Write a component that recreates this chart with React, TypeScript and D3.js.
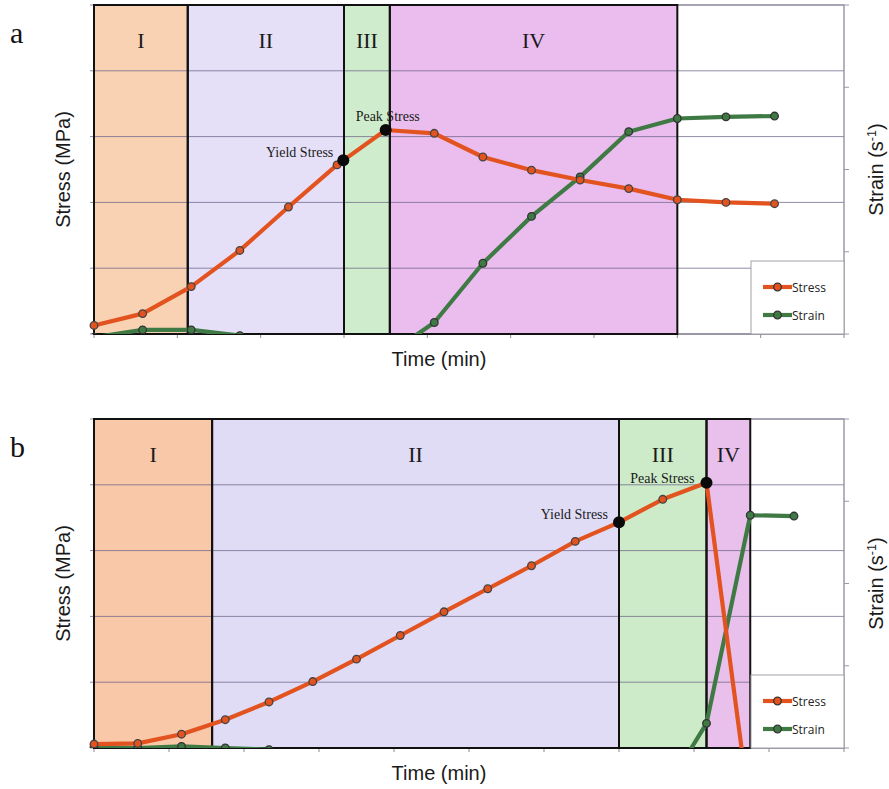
import React from "react";
import * as d3 from "d3";

// ---------- data ----------
const phaseLabels = ["I", "II", "III", "IV"];

// Panel a
const timeA = [0, 7, 14, 21, 28, 35, 42, 49, 56, 63, 70, 77, 84, 91, 98];
const stressA = [0.13, 0.31, 0.72, 1.27, 1.93, 2.57, 3.1, 3.05, 2.69, 2.49, 2.34, 2.21, 2.04, 2.0, 1.98];
const strainA = [-0.04, 0.05, 0.05, -0.02, -0.1, -0.2, -0.27, 0.14, 0.86, 1.43, 1.91, 2.46, 2.62, 2.64, 2.65];
const phaseBoundsA = [0, 13.5, 36, 42.6, 84];
const yieldA = [35.9, 2.64];
const peakA = [42, 3.1];

// Panel b
const timeB = [0, 7, 14, 21, 28, 35, 42, 49, 56, 63, 70, 77, 84, 91, 98, 105, 112];
const stressB = [0.06, 0.07, 0.21, 0.43, 0.7, 1.01, 1.35, 1.71, 2.07, 2.42, 2.77, 3.14, 3.43, 3.78, 4.03, -1.0];
const strainB = [0.01, 0.0, 0.02, 0.0, -0.02, -0.08, -0.14, -0.2, -0.26, -0.32, -0.38, -0.44, -0.5, -0.57, 0.3, 2.83, 2.82];
const phaseBoundsB = [0, 18.9, 84, 98, 105];
const yieldB = [84, 3.43];
const peakB = [98, 4.03];

const legendLabels = ["Stress", "Strain"];

// ---------- style ----------
const W = 889;
const H = 789;
const PL = 94;
const PR = 844;
const PH = 329;
const STRESS = "#e2531f";
const STRAIN = "#3f7a45";

type PanelProps = {
  id: string;
  letter: string;
  y0: number;
  xMax: number;
  xStep: number;
  times: number[];
  stress: number[];
  strain: number[];
  bounds: number[];
  colors: string[];
  yieldPt: number[];
  peakPt: number[];
  yieldOff: number[];
  peakOff: number[];
  peakAnchor: string;
};

function Panel(p: PanelProps) {
  const x = d3.scaleLinear().domain([0, p.xMax]).range([PL, PR]);
  const yL = d3.scaleLinear().domain([0, 5]).range([p.y0 + PH, p.y0]);
  const yR = d3.scaleLinear().domain([0, 4]).range([p.y0 + PH, p.y0]);
  const lineL = d3
    .line<number>()
    .x((_, i) => x(p.times[i]))
    .y((d) => yL(d));
  const lineR = d3
    .line<number>()
    .x((_, i) => x(p.times[i]))
    .y((d) => yR(d));
  const xTicks = d3.range(0, p.xMax + 0.001, p.xStep);
  const yTicks = yL.ticks(5);
  const rTicks = yR.ticks(4);
  const bottom = p.y0 + PH;
  const clipId = "clip-" + p.id;
  const lx = 751;
  const ly = p.y0 + 256;
  const legendY = [p.y0 + 282, p.y0 + 310];

  return (
    <g>
      <defs>
        <clipPath id={clipId}>
          <rect x={PL - 6} y={p.y0} width={PR - PL + 12} height={PH} />
        </clipPath>
      </defs>
      <text x={10} y={p.y0 + 38} fontFamily="Liberation Serif" fontSize={30} fill="#111">
        {p.letter}
      </text>
      {/* plot background border */}
      <rect x={PL} y={p.y0} width={PR - PL} height={PH} fill="#fff" stroke="#9a9aa6" strokeWidth={1} />
      {/* phase fills */}
      {phaseLabels.map((lab, i) => (
        <rect
          key={"pf" + i}
          x={x(p.bounds[i])}
          y={p.y0}
          width={x(p.bounds[i + 1]) - x(p.bounds[i])}
          height={PH}
          fill={p.colors[i]}
        />
      ))}
      {/* gridlines */}
      {yTicks.map((t) => (
        <line key={"g" + t} x1={PL - 4} x2={PR} y1={yL(t)} y2={yL(t)} stroke="#6e6488" strokeOpacity={0.75} strokeWidth={1} />
      ))}
      {/* right axis */}
      <line x1={PR} x2={PR} y1={p.y0} y2={bottom} stroke="#9a9aa6" strokeWidth={1} />
      {rTicks.map((t) => (
        <line key={"r" + t} x1={PR} x2={PR + 5} y1={yR(t)} y2={yR(t)} stroke="#9a9aa6" strokeWidth={1} />
      ))}
      {/* bottom axis ticks */}
      <line x1={PL} x2={PR} y1={bottom} y2={bottom} stroke="#8a8a96" strokeWidth={1.2} />
      {xTicks.map((t) => (
        <line key={"x" + t} x1={x(t)} x2={x(t)} y1={bottom} y2={bottom + 4} stroke="#8a8a96" strokeWidth={1} />
      ))}
      {/* phase borders */}
      {phaseLabels.map((lab, i) => (
        <rect
          key={"pb" + i}
          x={x(p.bounds[i])}
          y={p.y0}
          width={x(p.bounds[i + 1]) - x(p.bounds[i])}
          height={PH}
          fill="none"
          stroke="#111"
          strokeWidth={2}
        />
      ))}
      {/* phase labels */}
      {phaseLabels.map((lab, i) => (
        <text
          key={"pl" + i}
          x={(x(p.bounds[i]) + x(p.bounds[i + 1])) / 2}
          y={p.y0 + 43}
          textAnchor="middle"
          fontFamily="Liberation Serif"
          fontSize={22}
          fill="#1a1a1a"
        >
          {lab}
        </text>
      ))}
      {/* series */}
      <g clipPath={`url(#${clipId})`}>
        <path d={lineR(p.strain) || ""} fill="none" stroke={STRAIN} strokeWidth={4.2} strokeLinejoin="round" />
        <path d={lineL(p.stress) || ""} fill="none" stroke={STRESS} strokeWidth={4.2} strokeLinejoin="round" />
        {p.strain.map((v, i) => (
          <circle key={"sm" + i} cx={x(p.times[i])} cy={yR(v)} r={3.8} fill={STRAIN} stroke="#333" strokeWidth={1.3} />
        ))}
        {p.stress.map((v, i) => (
          <circle key={"st" + i} cx={x(p.times[i])} cy={yL(v)} r={3.8} fill={STRESS} stroke="#444" strokeWidth={1.3} />
        ))}
      </g>
      {/* annotations */}
      <circle cx={x(p.yieldPt[0])} cy={yL(p.yieldPt[1])} r={6} fill="#0a0a0a" />
      <circle cx={x(p.peakPt[0])} cy={yL(p.peakPt[1])} r={6} fill="#0a0a0a" />
      <text
        x={x(p.yieldPt[0]) + p.yieldOff[0]}
        y={yL(p.yieldPt[1]) + p.yieldOff[1]}
        textAnchor="end"
        fontFamily="Liberation Serif"
        fontSize={14}
        fill="#1a1a1a"
      >
        Yield Stress
      </text>
      <text
        x={x(p.peakPt[0]) + p.peakOff[0]}
        y={yL(p.peakPt[1]) + p.peakOff[1]}
        textAnchor={p.peakAnchor}
        fontFamily="Liberation Serif"
        fontSize={14}
        fill="#1a1a1a"
      >
        Peak Stress
      </text>
      {/* legend */}
      <rect x={lx} y={ly} width={PR - lx} height={PH - 256} fill="#fff" stroke="#a0a0aa" strokeWidth={1} />
      {legendLabels.map((lab, i) => (
        <g key={"lg" + i}>
          <line x1={lx + 12} x2={lx + 41} y1={legendY[i]} y2={legendY[i]} stroke={i === 0 ? STRESS : STRAIN} strokeWidth={4.2} />
          <circle cx={lx + 26.5} cy={legendY[i]} r={3.8} fill={i === 0 ? STRESS : STRAIN} stroke="#333" strokeWidth={1.3} />
          <text x={lx + 41} y={legendY[i] + 4.5} fontFamily="Open Sans" fontSize={12} fill="#222">
            {lab}
          </text>
        </g>
      ))}
      {/* axis titles */}
      <text
        transform={`translate(70,${p.y0 + PH / 2}) rotate(-90)`}
        textAnchor="middle"
        fontFamily="Liberation Sans"
        fontSize={20}
        fill="#1a1a1a"
      >
        Stress (MPa)
      </text>
      <text
        transform={`translate(883,${p.y0 + PH / 2}) rotate(-90)`}
        textAnchor="middle"
        fontFamily="Liberation Sans"
        fontSize={20}
        fill="#1a1a1a"
      >
        Strain (s
        <tspan fontSize={12.5} dy={-7.5}>
          -1
        </tspan>
        <tspan dy={7.5}>)</tspan>
      </text>
      <text
        x={439}
        y={bottom + 32}
        textAnchor="middle"
        fontFamily="Liberation Sans"
        fontSize={20}
        fill="#1a1a1a"
      >
        Time (min)
      </text>
    </g>
  );
}

export default function App() {
  return (
    <svg
      width={W}
      height={H}
      viewBox={`0 0 ${W} ${H}`}
      style={{ position: "absolute", left: 0, top: 0, background: "#fff" }}
    >
      <rect x={0} y={0} width={W} height={H} fill="#fff" />
      <Panel
        id="a"
        letter="a"
        y0={5}
        xMax={108}
        xStep={12}
        times={timeA}
        stress={stressA}
        strain={strainA}
        bounds={phaseBoundsA}
        colors={["#f9d2b4", "#e5e0f8", "#cfedcc", "#eabdee"]}
        yieldPt={yieldA}
        peakPt={peakA}
        yieldOff={[-10, -3]}
        peakOff={[-30, -9]}
        peakAnchor="start"
      />
      <Panel
        id="b"
        letter="b"
        y0={419}
        xMax={120}
        xStep={12}
        times={timeB}
        stress={stressB}
        strain={strainB}
        bounds={phaseBoundsB}
        colors={["#f8c8a8", "#e0dcf6", "#cdebc8", "#e9c0eb"]}
        yieldPt={yieldB}
        peakPt={peakB}
        yieldOff={[-11, -3]}
        peakOff={[-12, 0]}
        peakAnchor="end"
      />
    </svg>
  );
}
